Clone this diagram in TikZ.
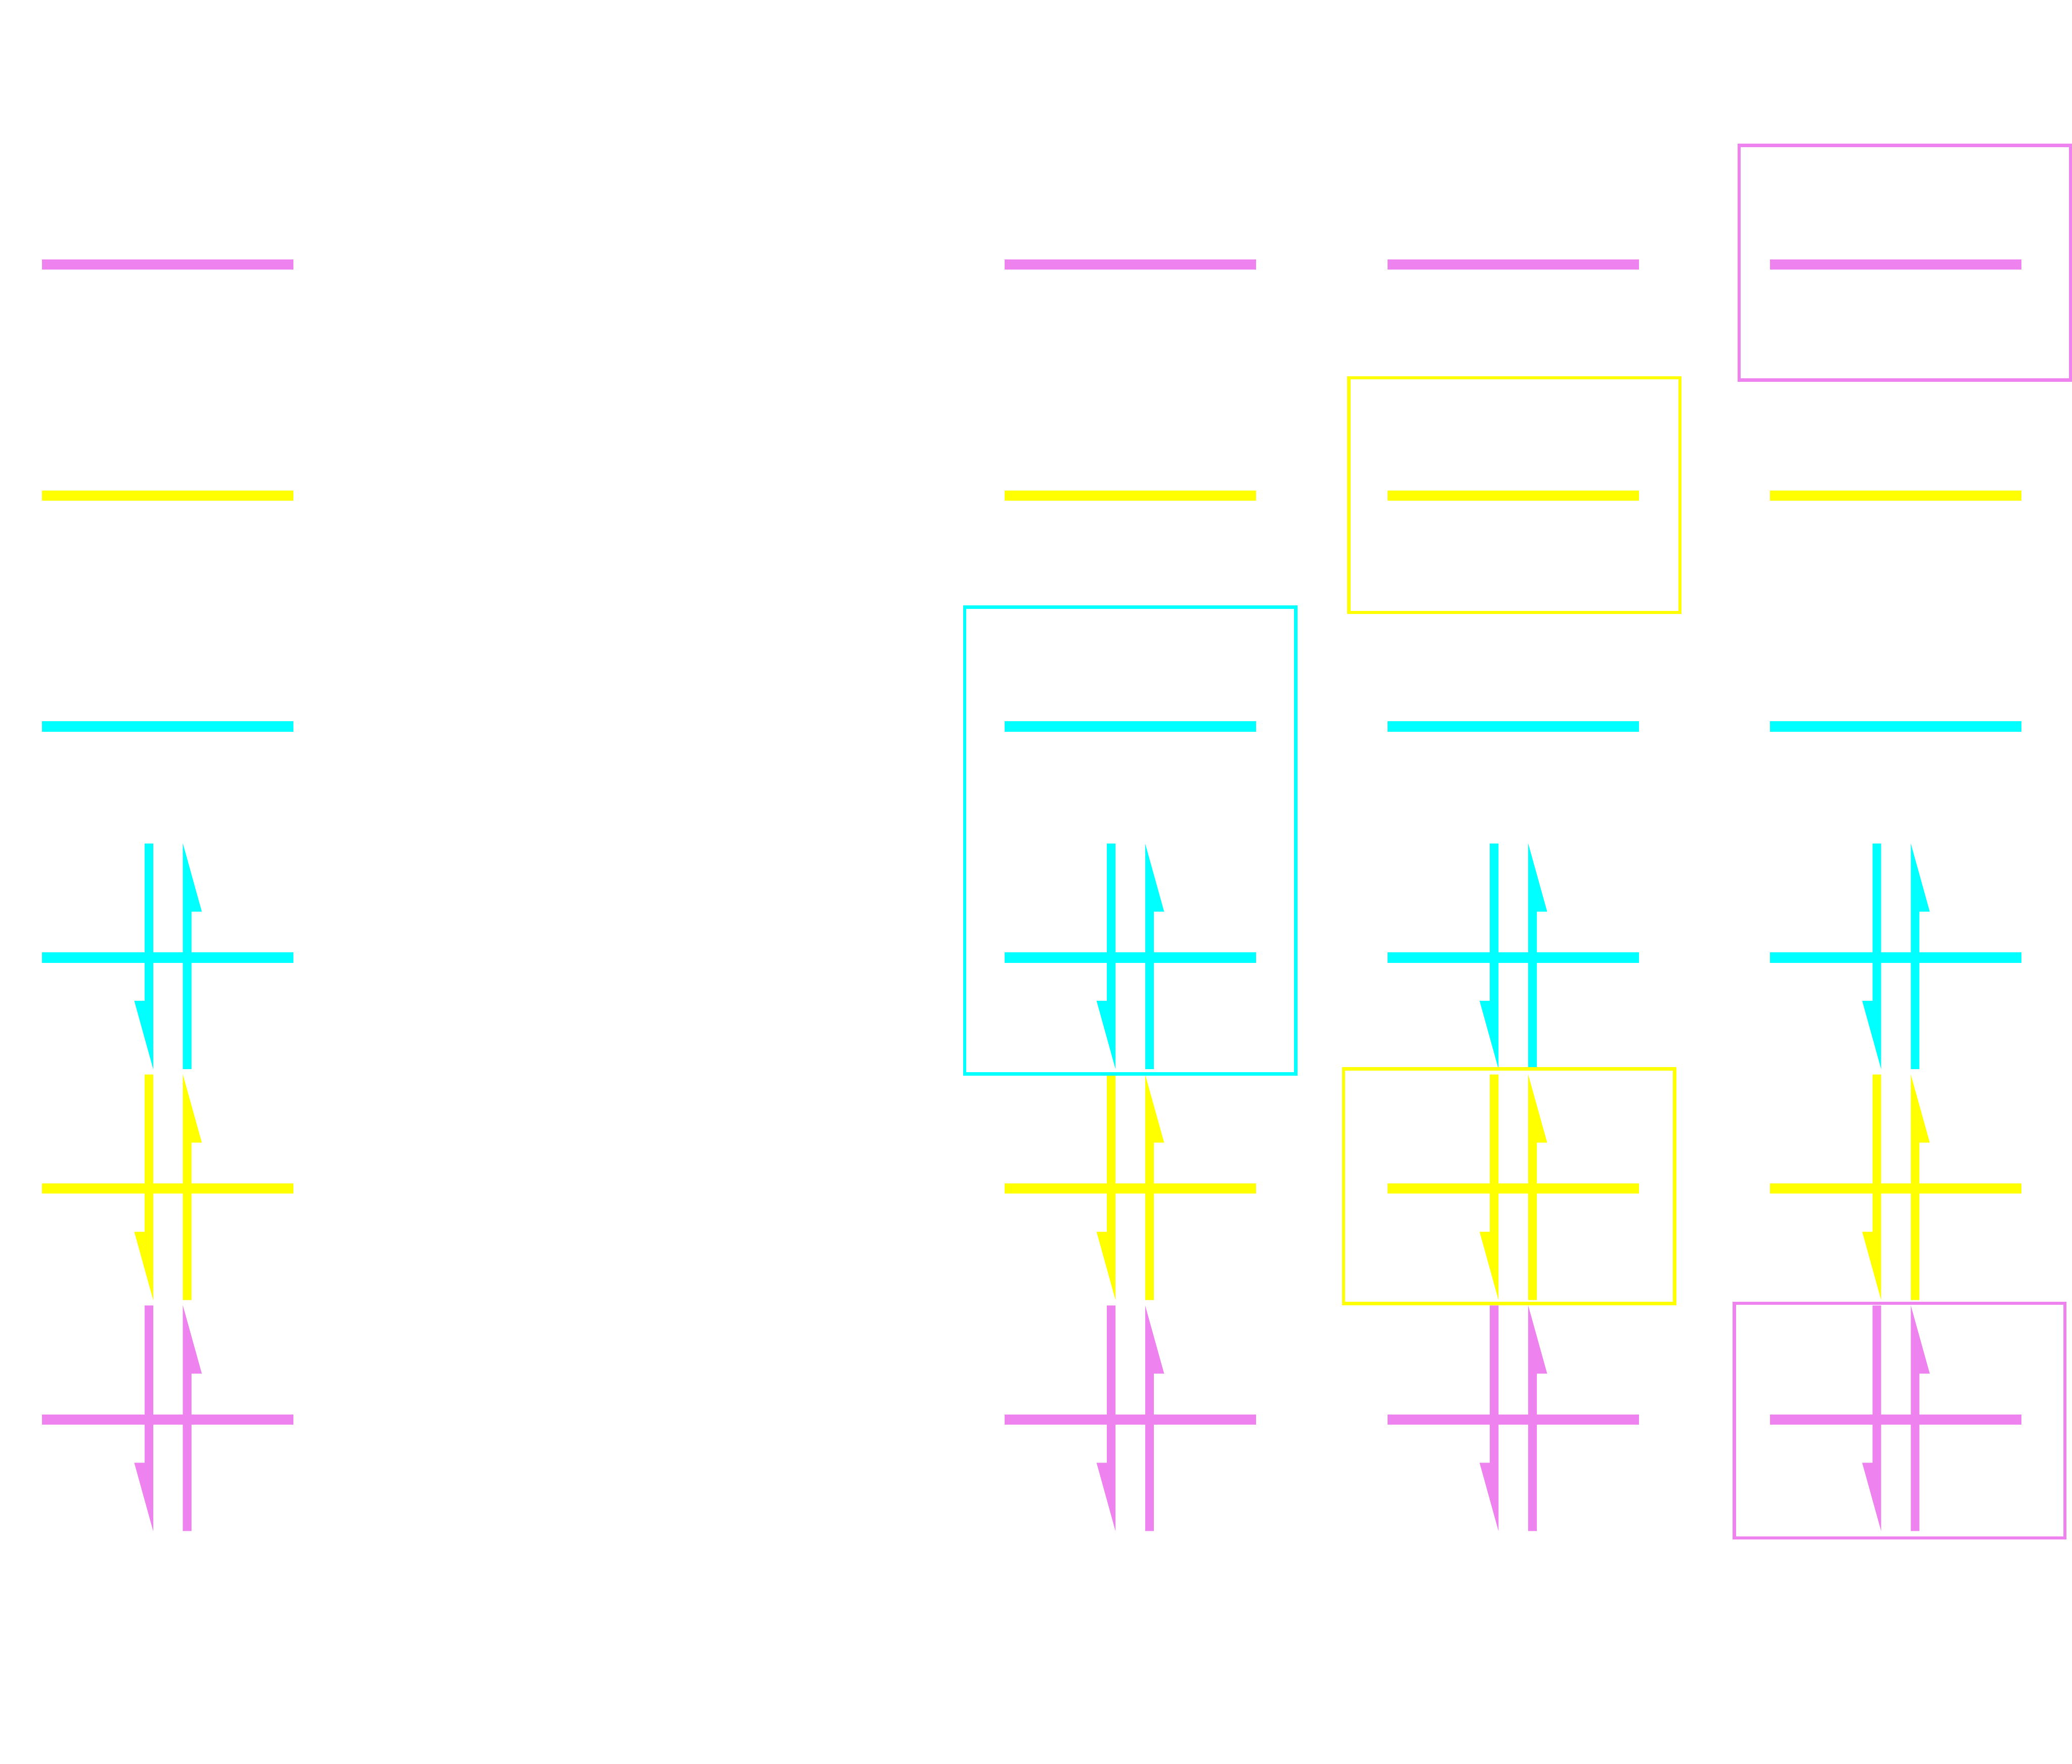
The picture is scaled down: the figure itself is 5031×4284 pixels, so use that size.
\documentclass[tikz,border=0pt]{standalone}
\usepackage{tikz}
\definecolor{lvcyan}{HTML}{00FFFF}
\definecolor{lvyellow}{HTML}{FFFF00}
\definecolor{lvpink}{HTML}{EE82EE}
\tikzset{
  level line/.style={line width=0.25cm},
  hl box/.style={line width=0.08cm},
  pics/spinpair/.style={code={
    \fill[#1] (-56.5,-277) -- (-35.5,-277) -- (-35.5,271) -- (-81.5,105) -- (-56.5,105) -- cycle;
    \fill[#1] (36.5,271) -- (57.5,271) -- (57.5,-111.5) -- (82.5,-111.5) -- (36.5,-277) -- cycle;
  }}
}
\begin{document}
\begin{tikzpicture}[x=0.01cm,y=-0.01cm]
\fill[white] (0,0) rectangle (5031,4284);
\useasboundingbox (0,0) rectangle (5031,4284);
% columns and levels
\foreach \c [count=\i] in {407.5,2744,3674,4603}{
  \foreach \y/\col [count=\j] in {642.5/lvpink,1203.5/lvyellow,1764.5/lvcyan,2325.5/lvcyan,2886.5/lvyellow,3447.5/lvpink}{
    \coordinate (L\i-\j) at (\c,\y);
    \draw[level line,\col] ([xshift=-3.05cm]L\i-\j) -- ([xshift=3.05cm]L\i-\j);
  }
  \foreach \y/\col in {2325.5/lvcyan,2886.5/lvyellow,3447.5/lvpink}{
    \pic at (\c,\y) {spinpair=\col};
  }
}
% highlight boxes
\draw[hl box,lvcyan]   (2342,1474.5) rectangle (3146,2608);
\draw[hl box,lvyellow] (3275,917.5) rectangle (4079,1487.5);
\draw[hl box,lvyellow] (3262.5,2596) rectangle (4066,3166);
\draw[hl box,lvpink]   (4223,353) rectangle (5027,923);
\draw[hl box,lvpink]   (4211,3165) rectangle (5014,3735);
\end{tikzpicture}
\end{document}
